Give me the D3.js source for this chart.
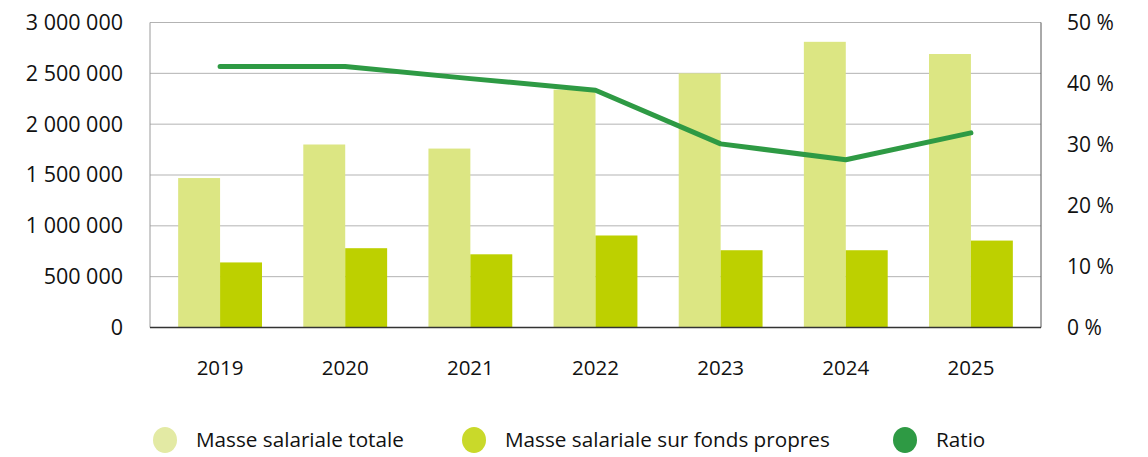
<!DOCTYPE html>
<html>
<head>
<meta charset="utf-8">
<script src="https://cdn.jsdelivr.net/npm/d3@7"></script>
<style>
  body { margin: 0; background: #fff; }
  svg { display: block; font-family: "Open Sans", sans-serif; }
</style>
</head>
<body>
<div id="chart"></div>
<script>
const years = ["2019", "2020", "2021", "2022", "2023", "2024", "2025"];
const masseTotale = [1470000, 1800000, 1760000, 2340000, 2500000, 2810000, 2690000];
const masseFondsPropres = [640000, 780000, 720000, 905000, 760000, 760000, 855000];
const ratio = [42.8, 42.8, 40.8, 38.9, 30.1, 27.5, 31.9];
const leftTicks = [0, 500000, 1000000, 1500000, 2000000, 2500000, 3000000];
const rightTicks = [0, 10, 20, 30, 40, 50];
const legendItems = ["Masse salariale totale", "Masse salariale sur fonds propres", "Ratio"];

const colors = {
  totale: "#dce683",
  fonds: "#bdd000",
  ratio: "#2e9a44",
  legendTotale: "#e3eaa4",
  legendFonds: "#c9d92a"
};

const width = 1148;
const height = 457;
const margin = { top: 22.5, right: 107, bottom: 129.5, left: 150 };

const svg = d3
  .select("#chart")
  .append("svg")
  .attr("width", width)
  .attr("height", height);

const x = d3
  .scaleBand()
  .domain(years)
  .range([margin.left, width - margin.right])
  .paddingInner(0.33)
  .paddingOuter(0.225);

const xSub = d3
  .scaleBand()
  .domain(["totale", "fonds"])
  .range([0, x.bandwidth()]);

const y = d3
  .scaleLinear()
  .domain([0, 3000000])
  .range([height - margin.bottom, margin.top]);

const yRight = d3
  .scaleLinear()
  .domain([0, 50])
  .range([height - margin.bottom, margin.top]);

const fr = d3.formatLocale({ decimal: ",", thousands: " ", grouping: [3], currency: ["", " €"] });
const fmt = fr.format(",d");

// grid
svg
  .append("g")
  .selectAll("line")
  .data(leftTicks.slice(1))
  .join("line")
  .attr("x1", margin.left)
  .attr("x2", width - margin.right)
  .attr("y1", (d) => y(d))
  .attr("y2", (d) => y(d))
  .attr("stroke", "#b3b3b3")
  .attr("stroke-width", 1);

// bars
const groups = svg
  .append("g")
  .selectAll("g")
  .data(years)
  .join("g")
  .attr("transform", (d) => `translate(${x(d)},0)`);

groups
  .append("rect")
  .attr("x", xSub("totale"))
  .attr("y", (d, i) => y(masseTotale[i]))
  .attr("width", xSub.bandwidth())
  .attr("height", (d, i) => y(0) - y(masseTotale[i]))
  .attr("fill", colors.totale);

groups
  .append("rect")
  .attr("x", xSub("fonds"))
  .attr("y", (d, i) => y(masseFondsPropres[i]))
  .attr("width", xSub.bandwidth())
  .attr("height", (d, i) => y(0) - y(masseFondsPropres[i]))
  .attr("fill", colors.fonds);

// axes lines
svg
  .append("line")
  .attr("x1", margin.left)
  .attr("x2", margin.left)
  .attr("y1", margin.top)
  .attr("y2", y(0))
  .attr("stroke", "#9a9a9a");

svg
  .append("line")
  .attr("x1", width - margin.right)
  .attr("x2", width - margin.right)
  .attr("y1", margin.top)
  .attr("y2", y(0))
  .attr("stroke", "#555");

svg
  .append("line")
  .attr("x1", margin.left)
  .attr("x2", width - margin.right)
  .attr("y1", y(0))
  .attr("y2", y(0))
  .attr("stroke", "#333")
  .attr("stroke-width", 1.5);

// ratio line
const line = d3
  .line()
  .x((d, i) => x(years[i]) + x.bandwidth() / 2)
  .y((d) => yRight(d));

svg
  .append("path")
  .datum(ratio)
  .attr("fill", "none")
  .attr("stroke", colors.ratio)
  .attr("stroke-width", 5)
  .attr("stroke-linecap", "round")
  .attr("stroke-linejoin", "round")
  .attr("d", line);

// left axis
const yAxis = svg
  .append("g")
  .attr("transform", `translate(${margin.left - 27},0)`)
  .call(d3.axisLeft(y).tickValues(leftTicks).tickFormat(fmt).tickSize(0).tickPadding(0));
yAxis.select(".domain").remove();
yAxis.selectAll("text").attr("font-size", 21.5).attr("fill", "#111").attr("font-family", "Open Sans");

// right axis
const yAxisR = svg
  .append("g")
  .attr("transform", `translate(${width - margin.right + 26},0)`)
  .call(d3.axisRight(yRight).tickValues(rightTicks).tickFormat((d) => d + " %").tickSize(0).tickPadding(0));
yAxisR.select(".domain").remove();
yAxisR.selectAll("text").attr("font-size", 21).attr("fill", "#111").attr("font-family", "Open Sans");

// bottom axis
const xAxis = svg
  .append("g")
  .attr("transform", `translate(0,${y(0) + 33})`)
  .call(d3.axisBottom(x).tickSize(0).tickPadding(0));
xAxis.select(".domain").remove();
xAxis.selectAll("text").attr("font-size", 20.5).attr("fill", "#111").attr("font-family", "Open Sans");

// legend
const legendX = [165, 474, 905];
const legendColors = [colors.legendTotale, colors.legendFonds, colors.ratio];
const legend = svg
  .append("g")
  .selectAll("g")
  .data(legendItems)
  .join("g")
  .attr("transform", (d, i) => `translate(${legendX[i]},440)`);

legend
  .append("ellipse")
  .attr("rx", 12)
  .attr("ry", 13)
  .attr("fill", (d, i) => legendColors[i]);

legend
  .append("text")
  .attr("x", 31)
  .attr("dy", "0.35em")
  .attr("font-size", 20.7)
  .attr("fill", "#111")
  .text((d) => d);
</script>
</body>
</html>
